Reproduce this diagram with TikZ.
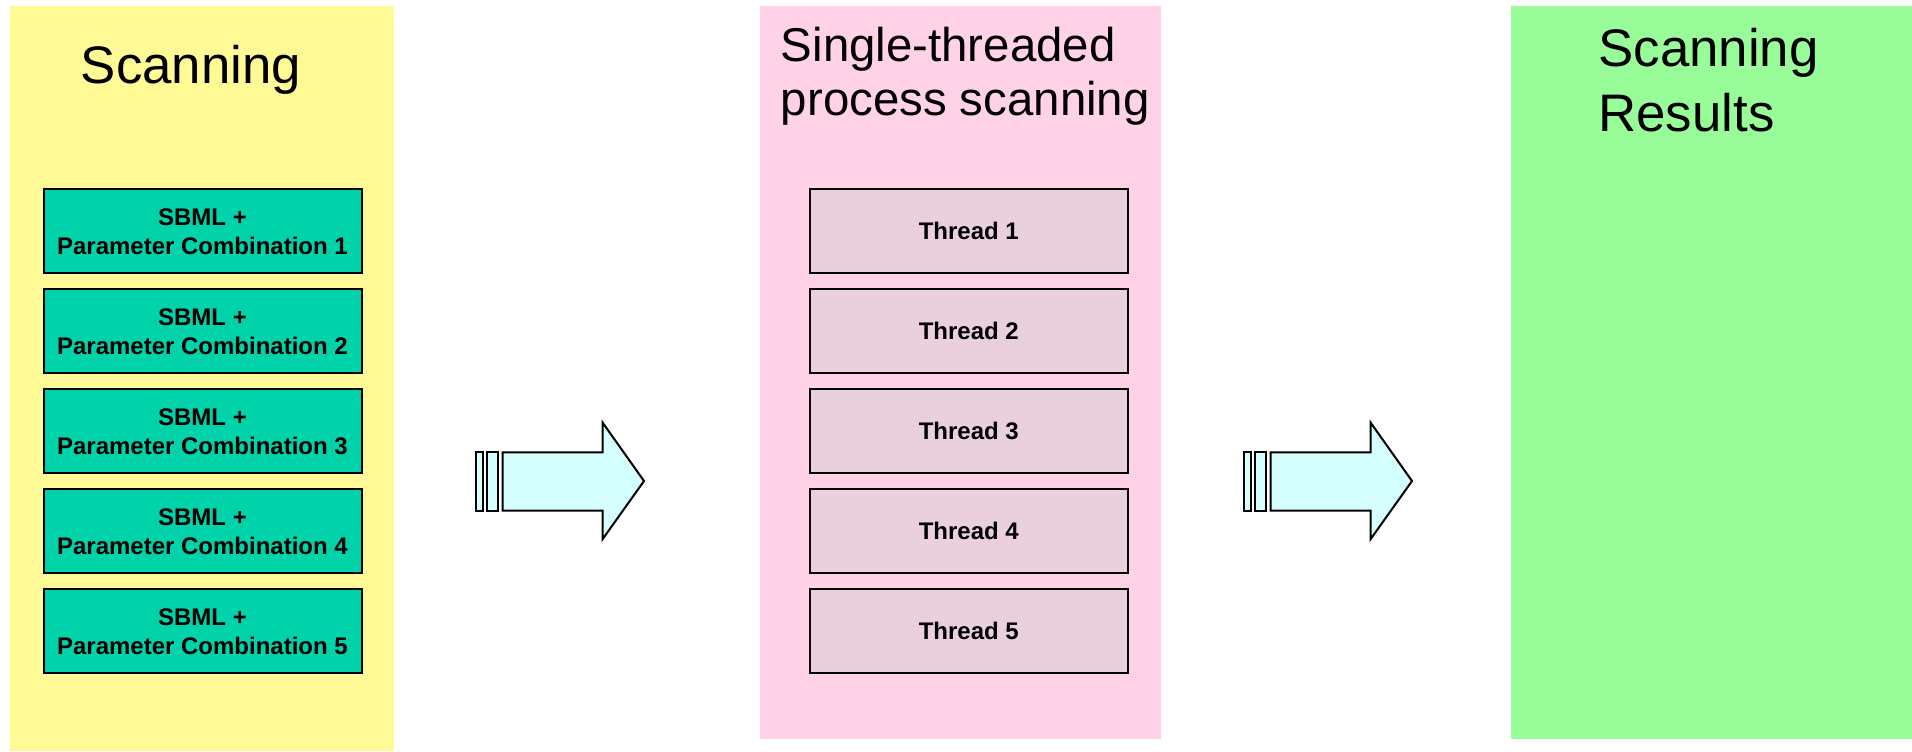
\documentclass[tikz,border=0pt]{standalone}
\usepackage{fontspec}
\setmainfont{Liberation Sans}
\usetikzlibrary{positioning}

\definecolor{scanyellow}{RGB}{255,250,150}
\definecolor{procpink}{RGB}{255,210,232}
\definecolor{resultgreen}{RGB}{152,252,152}
\definecolor{combogreen}{RGB}{0,210,170}
\definecolor{threadpink}{RGB}{233,208,220}
\definecolor{arrowcyan}{RGB}{213,255,255}

\begin{document}
\begin{tikzpicture}
  [x=0.5pt,y=-0.5pt,
   combo/.style={draw,line width=1pt,fill=combogreen,minimum width=159pt,
     minimum height=42pt,inner sep=0pt,align=center,
     font=\fontsize{12}{14.5}\selectfont\bfseries},
   thread/.style={combo,fill=threadpink},
   title/.style={inner sep=0pt,anchor=base west,align=left},
   bigarrow/.style={draw,line width=1pt,fill=arrowcyan,line join=miter}]
  \useasboundingbox (0,0) rectangle (1912,751);

  % the three panels
  \fill[scanyellow] (10,6) rectangle (394,751);
  \fill[procpink] (760,6) rectangle (1161,739);
  \fill[resultgreen] (1511,6) rectangle (1912,739);

  % titles (base = last line)
  \node[title,font=\fontsize{26.4}{31.5}\selectfont] (scan) at (80.5,83) {Scanning};
  \node[title,font=\fontsize{23.7}{27}\selectfont] (proc) at (780.5,115.7)
    {Single-threaded\\process scanning};
  \node[title,font=\fontsize{26.4}{32.5}\selectfont] (res) at (1598,131.7)
    {Scanning\\Results};

  \foreach \i in {1,...,5}
    \node[combo] (c\i) at (202.5,{131.3+100*\i}) {SBML +\\Parameter Combination \i};
  \foreach \i in {1,...,5}
    \node[thread] (t\i) at (968.8,{131.3+100*\i}) {Thread \i};

  % block arrows
  \foreach \x in {476,1244} {
    \draw[bigarrow] (\x,452.3) rectangle ++(6.7,58.4);
    \draw[bigarrow] (\x+11.3,452.3) rectangle ++(11,58.4);
    \draw[bigarrow] (\x+26.7,452.3) -- (\x+126.7,452.3) -- (\x+126.7,422.7)
      -- (\x+168,481) -- (\x+126.7,539) -- (\x+126.7,510.7)
      -- (\x+26.7,510.7) -- cycle;
  }
\end{tikzpicture}
\end{document}
